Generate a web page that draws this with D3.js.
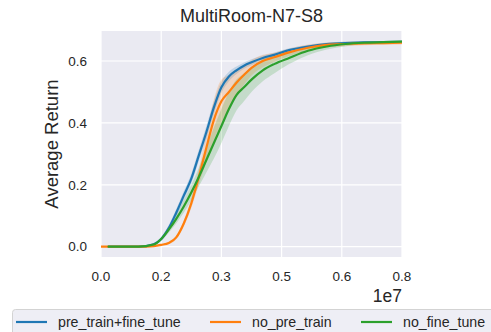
<!DOCTYPE html>
<html>
<head>
<meta charset="utf-8">
<script src="https://cdn.jsdelivr.net/npm/d3@7.9.0/dist/d3.min.js"></script>
<style>
  body { margin: 0; background: #fff; }
  svg { font-family: "Liberation Sans", Arial, sans-serif; }
</style>
</head>
<body>
<svg id="chart" width="491" height="332"></svg>
<script>
// steps in units of 1e7
const stepsBlue = [0.02, 0.1, 0.14, 0.16, 0.18, 0.2, 0.22, 0.24, 0.26, 0.28, 0.3, 0.32, 0.34, 0.36, 0.38, 0.4, 0.43, 0.46, 0.5, 0.55, 0.6, 0.65, 0.7, 0.75, 0.8];
const stepsOrange = [0, 0.1, 0.14, 0.16, 0.18, 0.2, 0.22, 0.24, 0.26, 0.28, 0.3, 0.32, 0.34, 0.36, 0.38, 0.4, 0.43, 0.46, 0.5, 0.55, 0.6, 0.65, 0.7, 0.75, 0.8];
const stepsGreen = stepsBlue;

const meanBlue = [0, 0, 0.008, 0.025, 0.06, 0.11, 0.165, 0.22, 0.295, 0.37, 0.45, 0.515, 0.55, 0.57, 0.585, 0.596, 0.61, 0.62, 0.635, 0.647, 0.655, 0.658, 0.66, 0.661, 0.662];
const meanOrange = [0, 0, 0.002, 0.006, 0.012, 0.03, 0.075, 0.14, 0.225, 0.32, 0.41, 0.47, 0.5, 0.53, 0.555, 0.578, 0.6, 0.612, 0.628, 0.643, 0.652, 0.655, 0.657, 0.658, 0.659];
const meanGreen = [0, 0, 0.007, 0.025, 0.055, 0.09, 0.13, 0.175, 0.225, 0.28, 0.335, 0.39, 0.445, 0.49, 0.515, 0.54, 0.57, 0.59, 0.61, 0.633, 0.647, 0.655, 0.659, 0.661, 0.663];

const sdBlue = [0, 0, 0.003, 0.006, 0.01, 0.012, 0.014, 0.016, 0.018, 0.02, 0.02, 0.018, 0.015, 0.012, 0.01, 0.01, 0.008, 0.007, 0.006, 0.005, 0.004, 0.004, 0.003, 0.003, 0.003];
const sdOrange = [0, 0, 0.001, 0.002, 0.004, 0.006, 0.01, 0.015, 0.025, 0.045, 0.065, 0.07, 0.055, 0.04, 0.032, 0.025, 0.02, 0.015, 0.012, 0.01, 0.008, 0.007, 0.006, 0.006, 0.006];
const sdGreen = [0, 0, 0.003, 0.006, 0.01, 0.015, 0.02, 0.025, 0.03, 0.04, 0.05, 0.055, 0.055, 0.05, 0.045, 0.04, 0.035, 0.03, 0.02, 0.014, 0.01, 0.007, 0.005, 0.004, 0.003];

const seriesNames = ['pre_train+fine_tune', 'no_pre_train', 'no_fine_tune'];
const seriesColors = ['#1f77b4', '#ff7f0e', '#2ca02c'];
const xTicks = [0, 0.16, 0.32, 0.48, 0.64, 0.8];
const yTicks = [0, 0.2, 0.4, 0.6];

const series = [
  { name: seriesNames[0], color: seriesColors[0], steps: stepsBlue, mean: meanBlue, sd: sdBlue },
  { name: seriesNames[1], color: seriesColors[1], steps: stepsOrange, mean: meanOrange, sd: sdOrange },
  { name: seriesNames[2], color: seriesColors[2], steps: stepsGreen, mean: meanGreen, sd: sdGreen }
];

const svg = d3.select('#chart');
const box = { left: 101, right: 402, top: 31, bottom: 257 };

const x = d3.scaleLinear().domain([0, 0.8]).range([box.left, box.right]);
const y = d3.scaleLinear().domain([-0.0332, 0.697]).range([box.bottom, box.top]);

// background
svg.append('rect')
  .attr('x', box.left).attr('y', box.top)
  .attr('width', box.right - box.left).attr('height', box.bottom - box.top)
  .attr('fill', '#eaeaf2');

// grid
svg.append('g').selectAll('line').data(xTicks).join('line')
  .attr('x1', d => x(d)).attr('x2', d => x(d))
  .attr('y1', box.top).attr('y2', box.bottom)
  .attr('stroke', '#fff').attr('stroke-width', 1.2);
svg.append('g').selectAll('line').data(yTicks).join('line')
  .attr('x1', box.left).attr('x2', box.right)
  .attr('y1', d => y(d)).attr('y2', d => y(d))
  .attr('stroke', '#fff').attr('stroke-width', 1.2);

// bands + lines
svg.append('clipPath').attr('id', 'clip')
  .append('rect').attr('x', box.left).attr('y', box.top)
  .attr('width', box.right - box.left).attr('height', box.bottom - box.top);

const plot = svg.append('g').attr('clip-path', 'url(#clip)');

series.forEach(s => {
  const pts = s.steps.map((st, i) => ({ x: st, m: s.mean[i], sd: s.sd[i] }));
  const area = d3.area()
    .x(d => x(d.x))
    .y0(d => y(d.m - d.sd))
    .y1(d => y(d.m + d.sd))
    .curve(d3.curveMonotoneX);
  plot.append('path').attr('d', area(pts))
    .attr('fill', s.color).attr('fill-opacity', 0.2);
});
series.forEach(s => {
  const pts = s.steps.map((st, i) => ({ x: st, m: s.mean[i] }));
  const line = d3.line()
    .x(d => x(d.x)).y(d => y(d.m))
    .curve(d3.curveMonotoneX);
  plot.append('path').attr('d', line(pts))
    .attr('fill', 'none').attr('stroke', s.color)
    .attr('stroke-width', 2.2).attr('stroke-linecap', 'round');
});

// tick labels
svg.append('g').selectAll('text').data(xTicks).join('text')
  .attr('x', d => x(d)).attr('y', 280.5)
  .attr('text-anchor', 'middle')
  .attr('font-size', 13.5).attr('fill', '#262626')
  .text(d => d3.format('.1f')(d));
svg.append('g').selectAll('text').data(yTicks).join('text')
  .attr('x', 87).attr('y', d => y(d))
  .attr('dy', '0.35em')
  .attr('text-anchor', 'end')
  .attr('font-size', 13.5).attr('fill', '#262626')
  .text(d => d3.format('.1f')(d));

svg.append('text')
  .attr('x', 402).attr('y', 302)
  .attr('text-anchor', 'end')
  .attr('font-size', 17.5).attr('fill', '#262626')
  .text('1e7');

// title
svg.append('text')
  .attr('x', (box.left + box.right) / 2).attr('y', 21.5)
  .attr('text-anchor', 'middle')
  .attr('font-size', 18).attr('fill', '#262626')
  .text('MultiRoom-N7-S8');

// y label
svg.append('text')
  .attr('transform', `translate(58, ${(box.top + box.bottom) / 2}) rotate(-90)`)
  .attr('text-anchor', 'middle')
  .attr('font-size', 18.5).attr('fill', '#262626')
  .text('Average Return');

// legend
const lg = svg.append('g');
lg.append('rect')
  .attr('x', 12.5).attr('y', 309.5)
  .attr('width', 490).attr('height', 40)
  .attr('rx', 3)
  .attr('fill', '#eeeef5').attr('stroke', '#d3d3d3');
const legendX = [16, 210, 361];
series.forEach((s, i) => {
  lg.append('line')
    .attr('x1', legendX[i]).attr('x2', legendX[i] + 31)
    .attr('y1', 322).attr('y2', 322)
    .attr('stroke', s.color).attr('stroke-width', 2.2);
  lg.append('text')
    .attr('x', legendX[i] + 42).attr('y', 322)
    .attr('dy', '0.35em')
    .attr('font-size', 14.2).attr('fill', '#262626')
    .text(s.name);
});
</script>
</body>
</html>
